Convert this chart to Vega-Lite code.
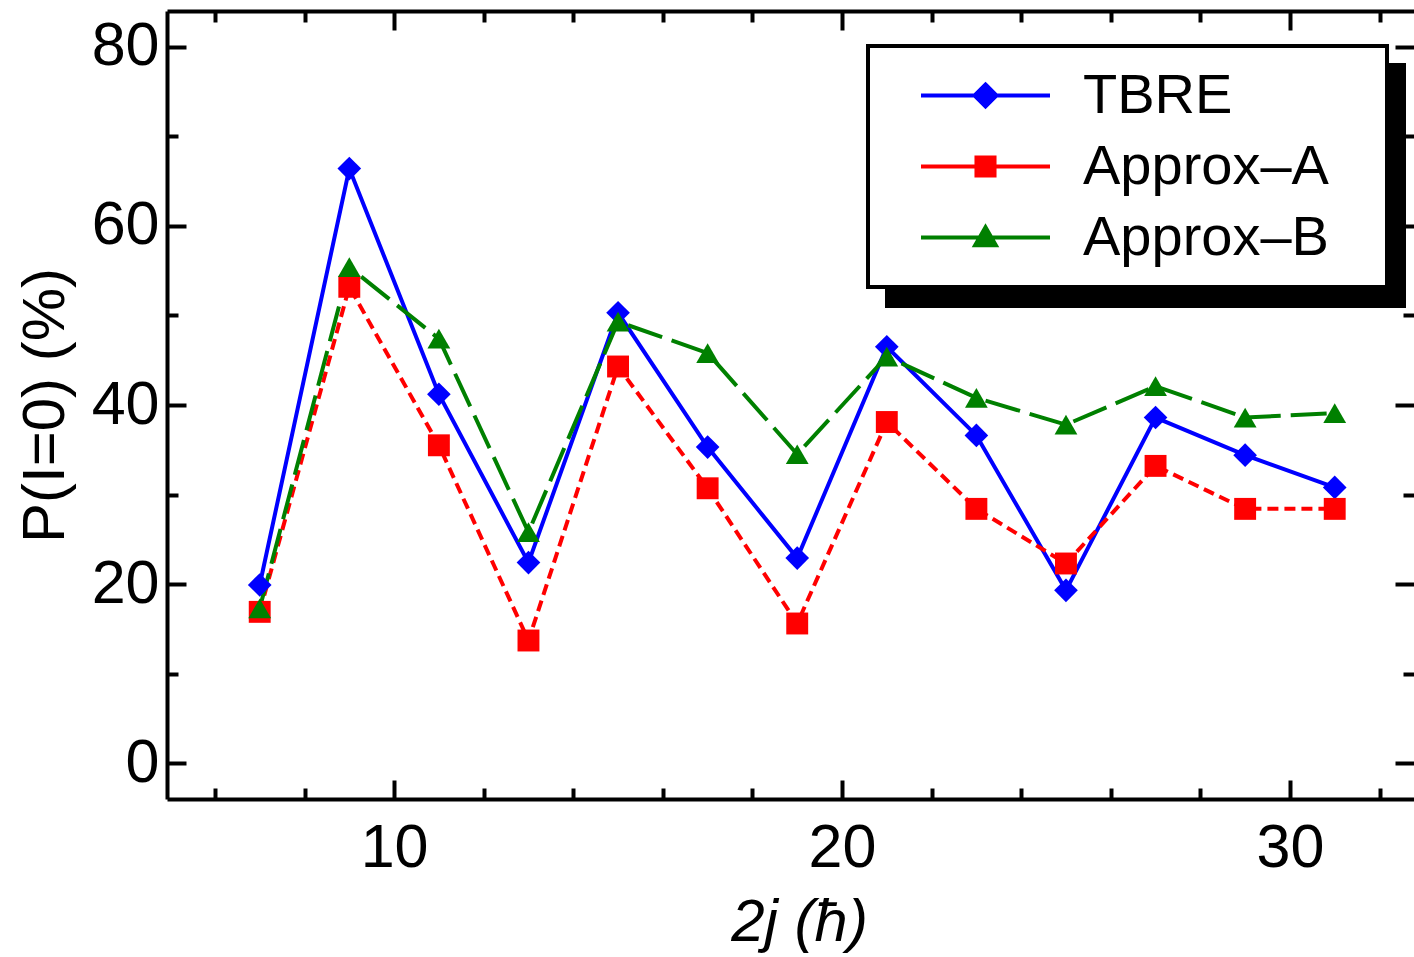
{
  "$schema": "https://vega.github.io/schema/vega-lite/v6.json",
  "width": 1247,
  "height": 788,
  "autosize": {"type": "none"},
  "padding": {"left": 167, "top": 11, "right": 0, "bottom": 158},
  "background": "white",
  "config": {
    "view": {"stroke": null},
    "font": "Liberation Sans",
    "legend": {"strokeWidth": 4},
    "axis": {
      "grid": false,
      "labelFont": "Liberation Sans",
      "titleFont": "Liberation Sans",
      "labelColor": "black",
      "titleColor": "black",
      "tickColor": "black",
      "domainColor": "black",
      "domainWidth": 4,
      "tickWidth": 4,
      "labelFontSize": 61,
      "titleFontSize": 60,
      "titleFontWeight": "normal",
      "labelFlush": false,
      "labelOverlap": false
    }
  },
  "data": {
    "values": [
      {"x": 7, "series": "TBRE", "y": 19.9},
      {"x": 9, "series": "TBRE", "y": 66.4},
      {"x": 11, "series": "TBRE", "y": 41.2},
      {"x": 13, "series": "TBRE", "y": 22.4},
      {"x": 15, "series": "TBRE", "y": 50.3},
      {"x": 17, "series": "TBRE", "y": 35.3},
      {"x": 19, "series": "TBRE", "y": 22.9},
      {"x": 21, "series": "TBRE", "y": 46.5},
      {"x": 23, "series": "TBRE", "y": 36.6},
      {"x": 25, "series": "TBRE", "y": 19.3},
      {"x": 27, "series": "TBRE", "y": 38.6},
      {"x": 29, "series": "TBRE", "y": 34.4},
      {"x": 31, "series": "TBRE", "y": 30.8},
      {"x": 7, "series": "Approx–A", "y": 16.9},
      {"x": 9, "series": "Approx–A", "y": 53.2},
      {"x": 11, "series": "Approx–A", "y": 35.5},
      {"x": 13, "series": "Approx–A", "y": 13.7},
      {"x": 15, "series": "Approx–A", "y": 44.3},
      {"x": 17, "series": "Approx–A", "y": 30.7},
      {"x": 19, "series": "Approx–A", "y": 15.6},
      {"x": 21, "series": "Approx–A", "y": 38.1},
      {"x": 23, "series": "Approx–A", "y": 28.4},
      {"x": 25, "series": "Approx–A", "y": 22.3},
      {"x": 27, "series": "Approx–A", "y": 33.2},
      {"x": 29, "series": "Approx–A", "y": 28.4},
      {"x": 31, "series": "Approx–A", "y": 28.4},
      {"x": 7, "series": "Approx–B", "y": 17.3},
      {"x": 9, "series": "Approx–B", "y": 55.4},
      {"x": 11, "series": "Approx–B", "y": 47.4},
      {"x": 13, "series": "Approx–B", "y": 25.8},
      {"x": 15, "series": "Approx–B", "y": 49.3},
      {"x": 17, "series": "Approx–B", "y": 45.8},
      {"x": 19, "series": "Approx–B", "y": 34.5},
      {"x": 21, "series": "Approx–B", "y": 45.4},
      {"x": 23, "series": "Approx–B", "y": 40.8},
      {"x": 25, "series": "Approx–B", "y": 37.8},
      {"x": 27, "series": "Approx–B", "y": 42.1},
      {"x": 29, "series": "Approx–B", "y": 38.6},
      {"x": 31, "series": "Approx–B", "y": 39.1}
    ]
  },
  "layer": [
    {
      "transform": [{"filter": "datum.series === 'TBRE'"}],
      "mark": {"type": "line", "strokeWidth": 4, "color": "#0000ff"},
      "encoding": {
        "x": {
          "field": "x", "type": "quantitative",
          "scale": {"domain": [4.93, 32.77], "nice": false, "zero": false},
          "axis": {
            "orient": "bottom", "values": [10, 20, 30], "ticks": false, "domain": true,
            "labelPadding": 19, "format": "d",
            "title": "2j (ħ)", "titleFontStyle": "italic", "titleX": 632, "titleY": 141,
            "titleAlign": "center", "titleBaseline": "alphabetic", "titleAnchor": null
          }
        },
        "y": {
          "field": "y", "type": "quantitative",
          "scale": {"domain": [-4, 84], "nice": false, "zero": false},
          "axis": {
            "orient": "left", "values": [0, 20, 40, 60, 80], "ticks": false, "domain": true,
            "labelPadding": 8, "format": "d",
            "title": "P(I=0) (%)", "titleAngle": 270, "titleX": -104, "titleY": 394,
            "titleAlign": "center", "titleBaseline": "alphabetic", "titleAnchor": null
          }
        }
      }
    },
    {
      "transform": [{"filter": "datum.series === 'Approx–A'"}],
      "mark": {"type": "line", "strokeWidth": 4, "color": "#ff0000", "strokeDash": [11, 6]},
      "encoding": {
        "x": {"field": "x", "type": "quantitative",
          "axis": {"orient": "top", "values": [10, 20, 30], "tickSize": -19, "labels": false, "domain": true, "title": null}},
        "y": {"field": "y", "type": "quantitative",
          "axis": {"orient": "right", "values": [0, 20, 40, 60, 80], "tickSize": -19, "labels": false, "domain": false, "title": null}}
      }
    },
    {
      "transform": [{"filter": "datum.series === 'Approx–B'"}],
      "mark": {"type": "line", "strokeWidth": 4, "color": "#008000", "strokeDash": [36, 10]},
      "encoding": {
        "x": {"field": "x", "type": "quantitative",
          "axis": {"orient": "bottom", "values": [10, 20, 30], "tickSize": -19, "labels": false, "domain": false, "title": null}},
        "y": {"field": "y", "type": "quantitative",
          "axis": {"orient": "left", "values": [0, 20, 40, 60, 80], "tickSize": -19, "labels": false, "domain": false, "title": null}}
      }
    },
    {
      "transform": [{"filter": "datum.series === 'TBRE'"}],
      "mark": {"type": "point", "shape": "diamond", "filled": true, "size": 560, "opacity": 1, "strokeWidth": 0, "color": "#0000ff"},
      "encoding": {
        "x": {"field": "x", "type": "quantitative",
          "axis": {"orient": "bottom", "values": [6, 8, 12, 14, 16, 18, 22, 24, 26, 28, 32], "tickSize": -11, "labels": false, "domain": false, "title": null}},
        "y": {"field": "y", "type": "quantitative",
          "axis": {"orient": "left", "values": [10, 30, 50, 70], "tickSize": -11, "labels": false, "domain": false, "title": null}}
      }
    },
    {
      "transform": [{"filter": "datum.series === 'Approx–A'"}],
      "mark": {"type": "point", "shape": "square", "filled": true, "size": 480, "opacity": 1, "strokeWidth": 0, "color": "#ff0000"},
      "encoding": {
        "x": {"field": "x", "type": "quantitative",
          "axis": {"orient": "top", "values": [6, 8, 12, 14, 16, 18, 22, 24, 26, 28, 32], "tickSize": -11, "labels": false, "domain": false, "title": null}},
        "y": {"field": "y", "type": "quantitative",
          "axis": {"orient": "right", "values": [10, 30, 50, 70], "tickSize": -11, "labels": false, "domain": false, "title": null}}
      }
    },
    {
      "transform": [{"filter": "datum.series === 'Approx–B'"}],
      "mark": {"type": "point", "shape": "triangle-up", "filled": true, "size": 520, "opacity": 1, "strokeWidth": 0, "color": "#008000"},
      "encoding": {
        "x": {"field": "x", "type": "quantitative", "axis": null},
        "y": {"field": "y", "type": "quantitative", "axis": null}
      }
    },
    {
      "mark": {"type": "point", "filled": true, "opacity": 0},
      "encoding": {
        "x": {"field": "x", "type": "quantitative", "axis": null},
        "y": {"field": "y", "type": "quantitative", "axis": null},
        "fill": {
          "field": "series", "type": "nominal",
          "scale": {"domain": ["TBRE", "Approx–A", "Approx–B"], "range": ["#0000ff", "#ff0000", "#008000"]},
          "legend": {
            "orient": "none", "legendX": 701, "legendY": 35, "title": null, "zindex": 1,
            "fillColor": "white", "strokeColor": "black", "padding": 15,
            "symbolSize": 16641, "symbolOffset": 36, "symbolStrokeWidth": 4, "symbolOpacity": 1,
            "symbolFillColor": "black", "symbolStrokeColor": "black",
            "labelOffset": 31, "labelFontSize": 56, "labelFont": "Liberation Sans", "labelColor": "black",
            "labelLimit": 600, "clipHeight": 69, "rowPadding": 2,
            "labelExpr": "datum.label + '\u00a0\u00a0\u2009\u200b'"
          }
        },
        "stroke": {
          "field": "series", "type": "nominal",
          "scale": {"domain": ["TBRE", "Approx–A", "Approx–B"], "range": ["#0000ff", "#ff0000", "#008000"]},
          "legend": {"title": null, "symbolFillColor": "black", "symbolStrokeColor": "black", "symbolOpacity": 1}
        },
        "shape": {
          "field": "series", "type": "nominal",
          "scale": {"domain": ["TBRE", "Approx–A", "Approx–B"], "range": [
            "M-1,0L1,0M0,-0.17L0.17,0L0,0.17L-0.17,0Z",
            "M-1,0L1,0M-0.14,-0.14L0.14,-0.14L0.14,0.14L-0.14,0.14Z",
            "M-1,0L1,0M0,-0.16L0.16,0.12L-0.16,0.12Z"
          ]},
          "legend": {"title": null, "symbolFillColor": "black", "symbolStrokeColor": "black", "symbolOpacity": 1}
        }
      }
    },
    {
      "mark": {"type": "point", "opacity": 0, "filled": true},
      "encoding": {
        "x": {"field": "x", "type": "quantitative", "axis": null},
        "y": {"field": "y", "type": "quantitative", "axis": null},
        "color": {
          "field": "series", "type": "nominal",
          "scale": {"domain": ["Approx–A", "Approx–B", "TBRE"], "range": ["black", "black", "black"]},
          "legend": {
            "orient": "none", "legendX": 720, "legendY": 54, "title": null, "zindex": 0,
            "fillColor": "black", "strokeColor": "black", "padding": 15,
            "symbolType": "M-1,0L1,0", "symbolSize": 237169, "symbolOffset": 0, "symbolStrokeWidth": 0,
            "labelOffset": 0, "labelFontSize": 56, "labelFont": "Liberation Sans",
            "labelLimit": 600, "clipHeight": 69, "rowPadding": 2,
            "labelExpr": "''",
            "symbolOpacity": 0, "labelOpacity": 0
          }
        }
      }
    }
  ],
  "resolve": {"axis": {"x": "independent", "y": "independent"}}
}
